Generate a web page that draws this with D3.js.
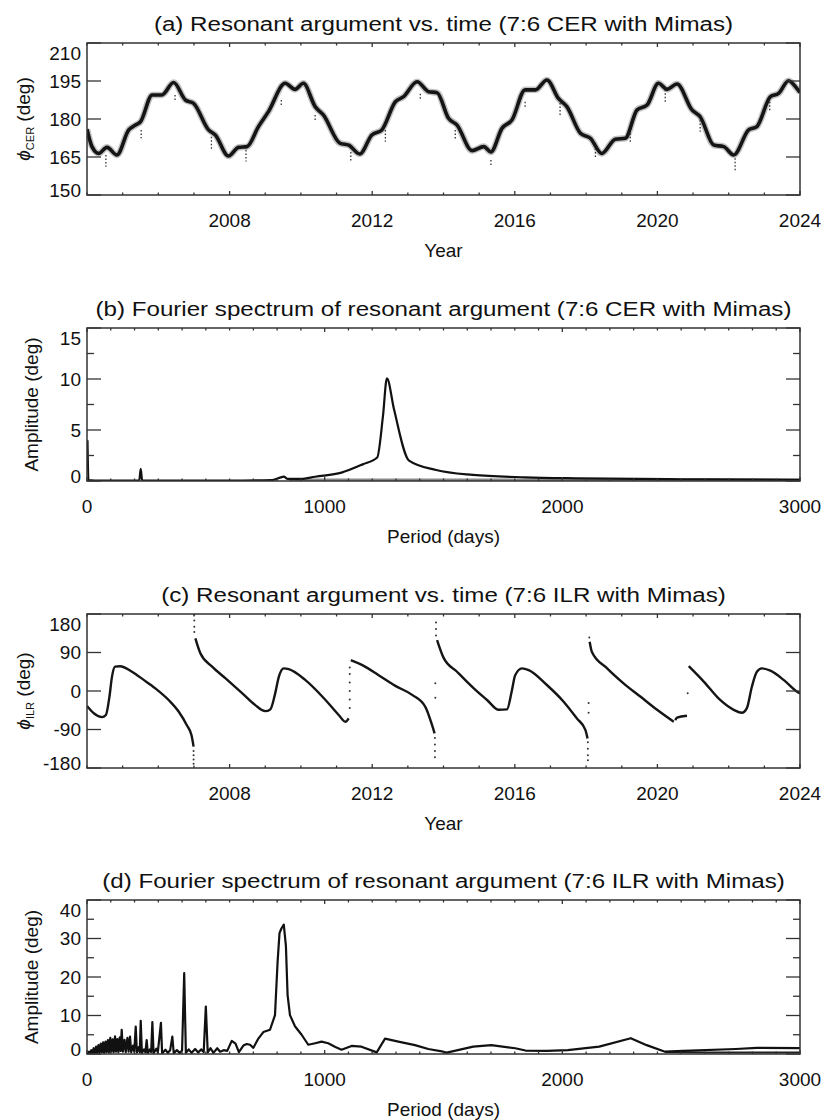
<!DOCTYPE html>
<html>
<head>
<meta charset="utf-8">
<script src="https://cdn.jsdelivr.net/npm/d3@7"></script>
<style>
    body { margin: 0; background: #fff; }
    svg { display: block; font-family: "Liberation Sans", Arial, Helvetica, sans-serif; }
    .frame { fill: none; stroke: #333; stroke-width: 1.5; }
    .tick-line { stroke: #333; stroke-width: 1.3; }
    .tick-label { font-size: 19px; fill: #111; }
    .axis-title { font-size: 19px; fill: #111; }
    .title { font-size: 21px; fill: #111; }
</style>
</head>
<body>
<svg id="chart" width="821" height="1120"></svg>
<script>
'use strict';

// (a) 7:6 CER resonant argument, deg
const cerYear = [2004.00, 2004.14, 2004.33, 2004.56, 2004.84, 2005.17, 2005.36, 2005.50, 2005.83, 2006.10,
    2006.43, 2006.76, 2006.99, 2007.41, 2007.60, 2007.97, 2008.25, 2008.49, 2008.81, 2009.09,
    2009.56, 2009.84, 2010.07, 2010.40, 2010.63, 2011.10, 2011.34, 2011.65, 2011.99, 2012.27,
    2012.65, 2012.88, 2013.26, 2013.58, 2013.82, 2014.14, 2014.38, 2014.80, 2015.13, 2015.33,
    2015.64, 2015.92, 2016.29, 2016.58, 2016.90, 2017.23, 2017.46, 2017.84, 2018.12, 2018.44,
    2018.82, 2019.10, 2019.43, 2019.71, 2020.03, 2020.27, 2020.55, 2020.97, 2021.20, 2021.58,
    2021.86, 2022.14, 2022.56, 2022.79, 2023.17, 2023.40, 2023.68, 2023.91, 2024.00];
const cerPhi = [176.0, 169.1, 166.4, 168.8, 165.8, 175.7, 177.6, 178.9, 189.5, 189.5,
    194.4, 187.5, 186.2, 175.7, 173.7, 165.4, 168.8, 169.1, 177.0, 182.9,
    194.1, 191.7, 194.1, 184.9, 181.6, 170.4, 169.7, 166.2, 173.7, 175.7,
    186.8, 188.8, 194.7, 190.8, 190.4, 180.3, 177.6, 167.5, 169.1, 167.0,
    176.3, 179.6, 191.5, 191.5, 195.4, 188.0, 184.9, 174.4, 172.4, 166.4,
    172.0, 172.4, 183.6, 185.5, 194.1, 191.7, 193.8, 183.6, 180.9, 169.7,
    169.1, 165.8, 175.7, 177.0, 188.8, 190.1, 195.1, 192.1, 190.5];

// (a) scattered samples hanging below the main track
const cerOutYear = [2004.53, 2005.52, 2006.47, 2007.49, 2008.46, 2009.45, 2010.40, 2011.40, 2012.37, 2013.35,
    2014.33, 2015.33, 2016.29, 2017.27, 2018.26, 2019.24, 2020.22, 2021.20, 2022.18, 2023.15];
const cerOutTop = [165.8, 175.7, 189.5, 173.0, 167.8, 187.5, 181.6, 167.0, 175.7, 190.0,
    175.7, 163.8, 186.8, 186.3, 168.4, 174.4, 191.5, 179.6, 164.5, 186.8];
const cerOutBottom = [161.2, 172.4, 186.8, 167.8, 163.2, 184.9, 178.9, 163.2, 171.0, 187.5,
    171.7, 161.2, 184.3, 180.9, 164.5, 170.4, 186.8, 175.0, 159.2, 182.9];

// (b) CER spectrum, period (days) vs amplitude (deg)
const cerPeriod = [2, 6, 60, 220, 226, 232, 600, 780, 815, 828, 845, 900, 960, 1071, 1160, 1221,
    1245, 1262, 1292, 1355, 1469, 1624, 1845, 2066, 2508, 3000];
const cerAmp = [4.0, 0.1, 0.05, 0.05, 1.2, 0.05, 0.05, 0.1, 0.35, 0.42, 0.2, 0.2, 0.42, 0.82, 1.63, 2.3,
    6.3, 10.07, 7.0, 2.0, 1.08, 0.6, 0.36, 0.26, 0.17, 0.12];
const cerFloorPeriod = [850, 1200, 1600, 2000, 2500, 3000];
const cerFloorAmp = [0.1, 0.1, 0.1, 0.1, 0.1, 0.1];

// (c) 7:6 ILR resonant argument, one array pair per continuous branch
const ilrYear = [
    [2004.00, 2004.19, 2004.42, 2004.53, 2004.63, 2004.70, 2004.79, 2004.93, 2005.26, 2005.59,
        2005.92, 2006.29, 2006.57, 2006.80, 2006.93, 2006.99],
    [2007.04, 2007.18, 2007.51, 2007.88, 2008.35, 2008.72, 2009.00, 2009.14, 2009.28, 2009.38,
        2009.52, 2009.66, 2010.12, 2010.69, 2011.06, 2011.25, 2011.34],
    [2011.40, 2011.43, 2011.71, 2012.18, 2012.65, 2013.12, 2013.49, 2013.68, 2013.75],
    [2013.82, 2014.00, 2014.38, 2014.85, 2015.22, 2015.55, 2015.78, 2015.92, 2016.01, 2016.20,
        2016.39, 2016.90, 2017.37, 2017.74, 2017.98, 2018.04],
    [2018.10, 2018.16, 2018.59, 2019.05, 2019.52, 2019.99, 2020.46],
    [2020.50, 2020.55, 2020.83],
    [2020.88, 2021.30, 2021.76, 2022.14, 2022.37, 2022.51, 2022.65, 2022.79, 2022.93, 2023.17,
        2023.54, 2023.92, 2024.00]
];
const ilrPhi = [
    [-35, -52, -61, -56, -13, 33, 57, 58, 45, 26, 6, -21, -48, -80, -103, -130],
    [123, 88, 57, 30, -5, -33, -47, -43, -5, 33, 53, 51, 26, -21, -56, -72, -64],
    [72, 71, 61, 37, 12, -9, -37, -80, -99],
    [119, 78, 45, 6, -21, -44, -43, 2, 37, 53, 49, 14, -25, -64, -91, -111],
    [115, 92, 53, 18, -13, -44, -72],
    [-68, -62, -58],
    [58, 22, -21, -44, -51, -40, 10, 45, 53, 47.5, 26, -2, -6]
];

// (c) isolated samples around the wraps
const ilrDotYear = [2006.99, 2006.99, 2006.99, 2006.99, 2007.01, 2007.01, 2007.01, 2007.01,
    2011.37, 2011.37, 2011.37, 2011.37, 2011.37, 2011.37,
    2013.76, 2013.76, 2013.76, 2013.76, 2013.77, 2013.77, 2013.79, 2013.79, 2013.79,
    2018.05, 2018.05, 2018.05, 2018.05, 2018.07, 2018.07, 2018.09, 2020.85];
const ilrDotPhi = [-140, -150, -160, -170, 178, 165, 150, 138,
    -40, -20, 0, 20, 40, 55,
    -110, -125, -140, -155, 18, -16, 160, 145, 130,
    -120, -135, -150, -162, -28, -51, 125, -5];

// (d) ILR spectrum, period (days) vs amplitude (deg)
const ilrPeriod = [0, 8, 12, 18, 22, 28, 32, 38, 42, 48, 52, 58, 62, 68, 72, 78, 82, 88, 92, 98,
    102, 108, 112, 118, 122, 128, 132, 138, 142, 146, 151, 158, 163, 170, 175, 181, 186, 194, 199, 205,
    210, 218, 222, 226, 231, 240, 246, 251, 256, 265, 270, 275, 280, 292, 298, 311, 316, 330, 340, 350,
    359, 365, 378, 390, 400, 409, 416, 428, 440, 455, 468, 480, 491, 500, 508, 520, 532, 548, 560, 575,
    590, 609, 625, 639, 658, 672, 686, 700, 721, 742, 770, 791, 802, 810, 818, 828, 837, 844, 854, 875,
    903, 931, 960, 987, 1015, 1045, 1071, 1113, 1155, 1219, 1254, 1310, 1380, 1436, 1499, 1514, 1625, 1701, 1802, 1845,
    1935, 2023, 2155, 2288, 2355, 2432, 2508, 2730, 2818, 3000];
const ilrAmp = [0, 0.6, 0.1, 1.0, 0.2, 1.5, 0.2, 1.9, 0.3, 2.3, 0.3, 2.7, 0.4, 3.0, 0.3, 3.2, 0.5, 3.6, 0.4, 4.2,
    0.6, 3.8, 0.5, 4.6, 0.6, 3.9, 0.5, 4.3, 0.8, 6.3, 0.6, 3.7, 0.5, 4.2, 0.6, 4.5, 0.5, 2.2, 0.6, 7.1,
    0.4, 1.8, 0.5, 8.6, 0.3, 1.2, 0.4, 3.6, 0.2, 1.2, 0.5, 8.3, 0.2, 1.4, 0.4, 8.1, 0.2, 1.1, 0.3, 1.0,
    4.5, 0.2, 1.0, 0.3, 0.9, 21.0, 0.3, 1.2, 0.3, 1.3, 0.4, 1.2, 0.5, 12.3, 0.4, 1.5, 0.3, 1.5, 0.6, 1.0,
    0.8, 3.4, 2.7, 0.5, 2.2, 2.6, 2.4, 1.6, 4.0, 5.7, 6.3, 10.1, 24.0, 31.4, 32.6, 33.6, 28.0, 15.3, 10.1, 7.2,
    5.0, 2.4, 2.8, 3.2, 2.8, 1.8, 1.1, 2.1, 1.9, 0.43, 4.0, 3.2, 2.3, 1.3, 0.6, 0.35, 1.9, 2.3, 1.5, 0.9,
    0.8, 1.0, 1.9, 4.1, 2.3, 0.6, 0.8, 1.3, 1.6, 1.5];
const ilrFloorPeriod = [2432, 2600, 2800, 3000];
const ilrFloorAmp = [0.5, 0.4, 0.4, 0.4];

const timeTicks = [2008, 2012, 2016, 2020, 2024];
const periodTicks = [0, 1000, 2000, 3000];

const svg = d3.select('#chart');
const left = 87;
const right = 800;

const panels = [
    {
        id: 'a', top: 43, bottom: 195, title: '(a) Resonant argument vs. time (7:6 CER with Mimas)',
        xDomain: [2004, 2024], xMajor: timeTicks, xMinorStep: 1, xTitle: 'Year',
        yDomain: [150, 210], yMajor: [150, 165, 180, 195, 210], yMinor: [],
        yTitle: ['CER'], yTitleX: 30
    },
    {
        id: 'b', top: 328, bottom: 481, title: '(b) Fourier spectrum of resonant argument (7:6 CER with Mimas)',
        xDomain: [0, 3000], xMajor: periodTicks, xMinorStep: 100, xTitle: 'Period (days)',
        yDomain: [0, 15], yMajor: [0, 5, 10, 15], yMinor: [2.5, 7.5, 12.5],
        yTitle: null, yTitleX: 38
    },
    {
        id: 'c', top: 614, bottom: 768, title: '(c) Resonant argument vs. time (7:6 ILR with Mimas)',
        xDomain: [2004, 2024], xMajor: timeTicks, xMinorStep: 1, xTitle: 'Year',
        yDomain: [-180, 180], yMajor: [-180, -90, 0, 90, 180], yMinor: [],
        yTitle: ['ILR'], yTitleX: 30
    },
    {
        id: 'd', top: 900, bottom: 1054, title: '(d) Fourier spectrum of resonant argument (7:6 ILR with Mimas)',
        xDomain: [0, 3000], xMajor: periodTicks, xMinorStep: 100, xTitle: 'Period (days)',
        yDomain: [0, 40], yMajor: [0, 10, 20, 30, 40], yMinor: [5, 15, 25, 35],
        yTitle: null, yTitleX: 38
    }
];

const zip = (xs, ys) => xs.map((x, i) => [x, ys[i]]);

panels.forEach(p => {
    p.x = d3.scaleLinear().domain(p.xDomain).range([left, right]);
    p.y = d3.scaleLinear().domain(p.yDomain).range([p.bottom, p.top]);
    p.g = svg.append('g').attr('class', 'panel-' + p.id);
    p.g.append('clipPath').attr('id', 'clip-' + p.id)
        .append('rect')
            .attr('x', left).attr('y', p.top)
            .attr('width', right - left).attr('height', p.bottom - p.top);
    p.plot = p.g.append('g').attr('clip-path', `url(#clip-${p.id})`);
});

drawCer(panels[0]);
drawCerSpectrum(panels[1]);
drawIlr(panels[2]);
drawIlrSpectrum(panels[3]);
panels.forEach(drawFrame);

function drawCer(p) {
    const line = d3.line()
        .x(d => p.x(d[0]))
        .y(d => p.y(d[1]))
        .curve(d3.curveMonotoneX);
    const pts = zip(cerYear, cerPhi);

    p.plot.append('path')
        .datum(pts)
        .attr('fill', 'none')
        .attr('stroke', '#777')
        .attr('stroke-width', 6.5)
        .attr('stroke-opacity', 0.45)
        .attr('d', line);
    p.plot.append('path')
        .datum(pts)
        .attr('fill', 'none')
        .attr('stroke', '#151515')
        .attr('stroke-width', 3.6)
        .attr('d', line);

    p.plot.selectAll('.outlier')
        .data(cerOutYear)
        .enter().append('line')
            .attr('class', 'outlier')
            .attr('x1', d => p.x(d))
            .attr('x2', d => p.x(d))
            .attr('y1', (d, i) => p.y(cerOutTop[i]))
            .attr('y2', (d, i) => p.y(cerOutBottom[i]))
            .attr('stroke', '#333')
            .attr('stroke-width', 1.3)
            .attr('stroke-dasharray', '1.5,2');
}

function drawCerSpectrum(p) {
    const line = d3.line()
        .x(d => p.x(d[0]))
        .y(d => p.y(d[1]))
        .curve(d3.curveMonotoneX);

    p.plot.append('path')
        .datum(zip(cerFloorPeriod, cerFloorAmp))
        .attr('fill', 'none')
        .attr('stroke', '#888')
        .attr('stroke-width', 3)
        .attr('d', line);
    p.plot.append('path')
        .datum(zip(cerPeriod, cerAmp))
        .attr('fill', 'none')
        .attr('stroke', '#111')
        .attr('stroke-width', 2.2)
        .attr('stroke-linejoin', 'round')
        .attr('d', line);
}

function drawIlr(p) {
    const line = d3.line()
        .x(d => p.x(d[0]))
        .y(d => p.y(d[1]))
        .curve(d3.curveMonotoneX);

    p.plot.selectAll('.branch')
        .data(ilrYear.map((ys, i) => zip(ys, ilrPhi[i])))
        .enter().append('path')
            .attr('class', 'branch')
            .attr('fill', 'none')
            .attr('stroke', '#151515')
            .attr('stroke-width', 2.4)
            .attr('d', line);

    p.plot.selectAll('.dot')
        .data(zip(ilrDotYear, ilrDotPhi))
        .enter().append('circle')
            .attr('class', 'dot')
            .attr('cx', d => p.x(d[0]))
            .attr('cy', d => p.y(d[1]))
            .attr('r', 1)
            .attr('fill', '#333');
}

function drawIlrSpectrum(p) {
    const line = d3.line()
        .x(d => p.x(d[0]))
        .y(d => p.y(d[1]));

    p.plot.append('path')
        .datum(zip(ilrFloorPeriod, ilrFloorAmp))
        .attr('fill', 'none')
        .attr('stroke', '#222')
        .attr('stroke-width', 2)
        .attr('d', line);
    p.plot.append('path')
        .datum(zip(ilrPeriod, ilrAmp))
        .attr('fill', 'none')
        .attr('stroke', '#111')
        .attr('stroke-width', 2.2)
        .attr('stroke-linejoin', 'round')
        .attr('d', line);
}

function drawFrame(p) {
    const g = p.g;
    const xMajorLen = 4, xMinorLen = 2.5;
    const yMajorLen = 14, yMinorLen = 7;
    const xMinor = d3.range(p.xDomain[0], p.xDomain[1] + 1e-9, p.xMinorStep)
        .filter(v => p.xMajor.indexOf(v) < 0);

    const ticks = g.append('g').attr('class', 'tick-line');
    const xTick = (v, len) => {
        ticks.append('line')
            .attr('x1', p.x(v)).attr('x2', p.x(v))
            .attr('y1', p.bottom).attr('y2', p.bottom - len);
        ticks.append('line')
            .attr('x1', p.x(v)).attr('x2', p.x(v))
            .attr('y1', p.top).attr('y2', p.top + len);
    };
    const yTick = (v, len) => {
        ticks.append('line')
            .attr('x1', left).attr('x2', left + len)
            .attr('y1', p.y(v)).attr('y2', p.y(v));
        ticks.append('line')
            .attr('x1', right).attr('x2', right - len)
            .attr('y1', p.y(v)).attr('y2', p.y(v));
    };
    p.xMajor.forEach(v => xTick(v, xMajorLen));
    xMinor.forEach(v => xTick(v, xMinorLen));
    p.yMajor.forEach(v => yTick(v, yMajorLen));
    p.yMinor.forEach(v => yTick(v, yMinorLen));

    g.append('rect')
        .attr('class', 'frame')
        .attr('x', left).attr('y', p.top)
        .attr('width', right - left).attr('height', p.bottom - p.top);

    // x labels sit under the frame; y labels are nudged inside at the ends
    g.selectAll('.x-label')
        .data(p.xMajor)
        .enter().append('text')
            .attr('class', 'tick-label x-label')
            .attr('x', d => p.x(d))
            .attr('y', p.bottom + 31.5)
            .attr('text-anchor', 'middle')
            .text(d => d);

    g.selectAll('.y-label')
        .data(p.yMajor)
        .enter().append('text')
            .attr('class', 'tick-label y-label')
            .attr('x', left - 6)
            .attr('y', d => Math.min(Math.max(p.y(d), p.top + 10), p.bottom - 5))
            .attr('dy', '0.36em')
            .attr('text-anchor', 'end')
            .text(d => d);

    // panel titles run wide, so stretch them horizontally
    g.append('text')
        .attr('class', 'title')
        .attr('transform', `translate(${(left + right) / 2}, ${p.top - 12}) scale(1.15, 1)`)
        .attr('text-anchor', 'middle')
        .text(p.title);

    g.append('text')
        .attr('class', 'axis-title')
        .attr('x', (left + right) / 2)
        .attr('y', p.bottom + 62)
        .attr('text-anchor', 'middle')
        .text(p.xTitle);

    const yt = g.append('text')
        .attr('class', 'axis-title')
        .attr('text-anchor', 'middle')
        .attr('transform', `translate(${p.yTitleX}, ${(p.top + p.bottom) / 2}) rotate(-90)`);
    if (p.yTitle) {
        yt.append('tspan').attr('font-style', 'italic').text('\u03D5');
        yt.append('tspan').attr('font-size', '11px').attr('dy', 4).text(p.yTitle[0]);
        yt.append('tspan').attr('dy', -4).text(' (deg)');
    } else {
        yt.text('Amplitude (deg)');
    }
}
</script>
</body>
</html>
